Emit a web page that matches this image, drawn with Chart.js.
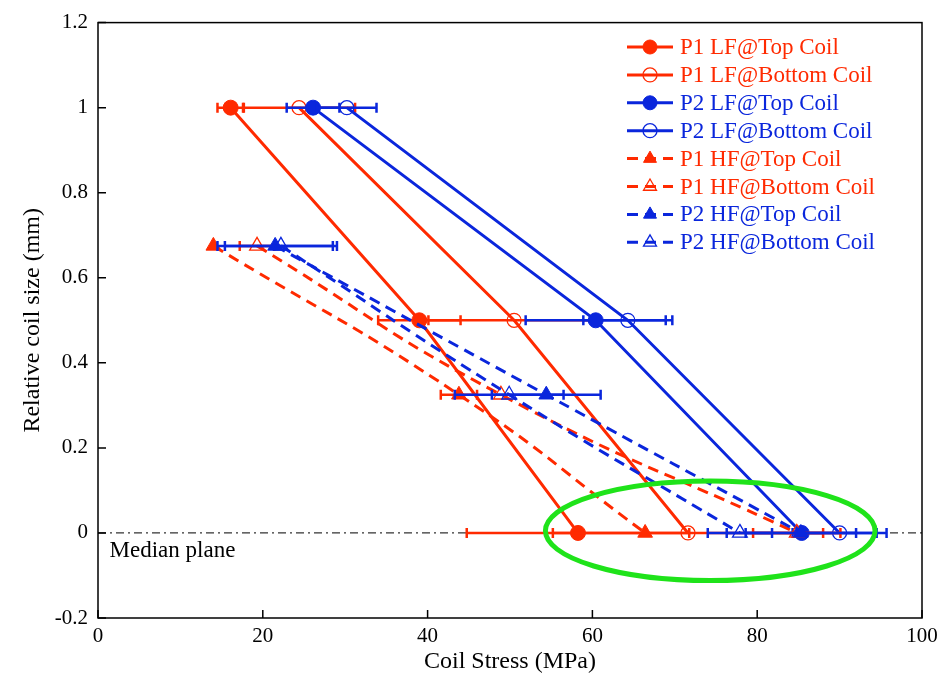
<!DOCTYPE html>
<html>
<head>
<meta charset="utf-8">
<script src="https://cdn.jsdelivr.net/npm/chart.js@4.4.0/dist/chart.umd.min.js"></script>
<style>
html, body { margin: 0; padding: 0; background: #fff; }
</style>
</head>
<body>
<canvas id="myChart" width="951" height="677"></canvas>
<script>
// series names, as in the legend
var seriesNames = ["P1 LF@Top Coil", "P1 LF@Bottom Coil", "P2 LF@Top Coil", "P2 LF@Bottom Coil",
                   "P1 HF@Top Coil", "P1 HF@Bottom Coil", "P2 HF@Top Coil", "P2 HF@Bottom Coil"];

// relative coil size (y) for the LF and HF positions
var lfSize = [1, 0.5, 0];
var hfSize = [0.675, 0.325, 0];

// coil stress (x, MPa)
var p1LfTop = [16.1, 39.0, 58.25];
var p1LfBottom = [24.4, 50.5, 71.6];
var p2LfTop = [26.1, 60.4, 85.4];
var p2LfBottom = [30.2, 64.3, 90.0];
var p1HfTop = [14.0, 43.8, 66.4];
var p1HfBottom = [19.3, 48.9, 84.8];
var p2HfTop = [21.5, 54.4, 85.3];
var p2HfBottom = [22.2, 49.9, 77.9];

// horizontal error (± MPa)
var p1LfTopErr = [1.6, 5.0, 13.5];
var p1LfBottomErr = [6.8, 10.4, 16.4];
var p2LfTopErr = [3.2, 8.5, 9.1];
var p2LfBottomErr = [3.6, 5.4, 5.7];
var p1HfTopErr = [0, 2.2, 0];
var p1HfBottomErr = [2.1, 0, 5.3];
var p2HfTopErr = [7.0, 6.6, 6.7];
var p2HfBottomErr = [6.8, 6.6, 3.9];

var xTicks = [0, 20, 40, 60, 80, 100];
var yTicks = [-0.2, 0, 0.2, 0.4, 0.6, 0.8, 1, 1.2];
var yTickLabels = ["-0.2", "0", "0.2", "0.4", "0.6", "0.8", "1", "1.2"];

// median plane line and the highlight ellipse
var medianX = [0, 100];
var medianY = [0, 0];
var ellipseCenter = [74.3, 0.005];
var ellipseRadius = [20.0, 0.117];

var RED = "#ff2a00";
var BLUE = "#0a26dc";
var GREEN = "#1fe31a";
var SERIF = "'Liberation Serif', 'Times New Roman', serif";

function pts(xs, ys) {
    return xs.map(function (x, i) { return { x: x, y: ys[i] }; });
}

var styles = [
    { c: RED, style: "circle", fill: true, dash: [] },
    { c: RED, style: "circle", fill: false, dash: [] },
    { c: BLUE, style: "circle", fill: true, dash: [] },
    { c: BLUE, style: "circle", fill: false, dash: [] },
    { c: RED, style: "triangle", fill: true, dash: [11, 7] },
    { c: RED, style: "triangle", fill: false, dash: [11, 7] },
    { c: BLUE, style: "triangle", fill: true, dash: [11, 7] },
    { c: BLUE, style: "triangle", fill: false, dash: [11, 7] }
];
var xs = [p1LfTop, p1LfBottom, p2LfTop, p2LfBottom, p1HfTop, p1HfBottom, p2HfTop, p2HfBottom];
var errs = [p1LfTopErr, p1LfBottomErr, p2LfTopErr, p2LfBottomErr, p1HfTopErr, p1HfBottomErr, p2HfTopErr, p2HfBottomErr];

var datasets = seriesNames.map(function (name, i) {
    var s = styles[i];
    var hf = i >= 4;
    return {
        label: name,
        data: pts(xs[i], hf ? hfSize : lfSize),
        errors: errs[i],
        borderColor: s.c,
        backgroundColor: s.fill ? s.c : "rgba(0,0,0,0)",
        pointStyle: s.style,
        pointRadius: s.style === "triangle" ? 8.5 : (s.fill ? 7.5 : 7),
        pointBorderWidth: s.fill ? 1 : 1.3,
        pointBorderColor: s.c,
        pointBackgroundColor: s.fill ? s.c : "rgba(0,0,0,0)",
        borderWidth: 3,
        borderDash: s.dash,
        tension: hf ? 0.5 : 0,
        order: 20 - i
    };
});
datasets.push({
    label: "Median plane",
    data: pts(medianX, medianY),
    borderColor: "#333",
    borderWidth: 1.2,
    borderDash: [8, 4, 2, 4],
    pointRadius: 0,
    order: 100
});

var errorBars = {
    id: "errorBars",
    beforeDatasetDraw: function (chart, args) {
        var ds = chart.data.datasets[args.index];
        if (!ds.errors) return;
        var ctx = chart.ctx, xs = chart.scales.x, ys = chart.scales.y;
        ctx.save();
        ctx.strokeStyle = ds.borderColor;
        ctx.lineWidth = 2.5;
        ctx.setLineDash([]);
        ds.data.forEach(function (p, k) {
            var e = ds.errors[k];
            if (!e) return;
            var x1 = xs.getPixelForValue(p.x - e), x2 = xs.getPixelForValue(p.x + e);
            var y = ys.getPixelForValue(p.y);
            ctx.beginPath();
            ctx.moveTo(x1, y); ctx.lineTo(x2, y);
            ctx.moveTo(x1, y - 5); ctx.lineTo(x1, y + 5);
            ctx.moveTo(x2, y - 5); ctx.lineTo(x2, y + 5);
            ctx.stroke();
        });
        ctx.restore();
    }
};

var decor = {
    id: "decor",
    afterDatasetsDraw: function (chart) {
        var ctx = chart.ctx, a = chart.chartArea, xs = chart.scales.x, ys = chart.scales.y;
        ctx.save();
        // green ellipse
        var cx = xs.getPixelForValue(ellipseCenter[0]), cy = ys.getPixelForValue(ellipseCenter[1]);
        var rx = xs.getPixelForValue(ellipseCenter[0] + ellipseRadius[0]) - cx;
        var ry = cy - ys.getPixelForValue(ellipseCenter[1] + ellipseRadius[1]);
        ctx.strokeStyle = GREEN;
        ctx.lineWidth = 5;
        ctx.beginPath();
        ctx.ellipse(cx, cy, rx, ry, 0, 0, Math.PI * 2);
        ctx.stroke();

        // median plane label
        ctx.fillStyle = "#000";
        ctx.font = "23px " + SERIF;
        ctx.textBaseline = "middle";
        ctx.textAlign = "left";
        ctx.fillText("Median plane", xs.getPixelForValue(1.4), ys.getPixelForValue(-0.042));

        // frame and inward ticks
        ctx.strokeStyle = "#000";
        ctx.lineWidth = 1.5;
        ctx.strokeRect(a.left, a.top, a.right - a.left, a.bottom - a.top);
        ctx.beginPath();
        xTicks.forEach(function (v) {
            var x = xs.getPixelForValue(v);
            ctx.moveTo(x, a.bottom); ctx.lineTo(x, a.bottom - 8);
        });
        yTicks.forEach(function (v) {
            var y = ys.getPixelForValue(v);
            ctx.moveTo(a.left, y); ctx.lineTo(a.left + 8, y);
        });
        ctx.stroke();

        // legend inside the plot
        chart.data.datasets.forEach(function (ds, i) {
            if (!ds.errors) return;
            var y = 47 + i * 27.9;
            ctx.strokeStyle = ds.borderColor;
            ctx.lineWidth = 3;
            ctx.setLineDash(ds.borderDash);
            ctx.beginPath();
            ctx.moveTo(627, y); ctx.lineTo(673, y);
            ctx.stroke();
            ctx.setLineDash([]);
            ctx.fillStyle = ds.pointBackgroundColor;
            ctx.lineWidth = ds.pointBorderWidth;
            Chart.helpers.drawPoint(ctx, {
                pointStyle: ds.pointStyle, radius: ds.pointStyle === "triangle" ? 7.5 : 7,
                rotation: 0, borderWidth: ds.pointBorderWidth
            }, 650, y);
            ctx.fillStyle = ds.borderColor;
            ctx.font = "23px " + SERIF;
            ctx.textBaseline = "middle";
            ctx.fillText(ds.label, 680, y + 1);
        });
        ctx.restore();
    }
};

new Chart("myChart", {
    type: "line",
    data: { datasets: datasets },
    options: {
        responsive: false,
        animation: false,
        layout: { padding: { top: 17, right: 29, left: 0, bottom: 0 } },
        plugins: { legend: { display: false }, tooltip: { enabled: false } },
        scales: {
            x: {
                type: "linear", min: 0, max: 100,
                afterBuildTicks: function (s) { s.ticks = xTicks.map(function (v) { return { value: v }; }); },
                afterFit: function (s) { s.height = 59; },
                grid: { display: false, drawTicks: false },
                border: { display: false },
                ticks: { color: "#000", font: { family: SERIF, size: 21 }, padding: 6, maxRotation: 0 },
                title: { display: true, text: "Coil Stress (MPa)", color: "#000",
                         font: { family: SERIF, size: 24 }, padding: { bottom: 1, top: 0 } }
            },
            y: {
                type: "linear", min: -0.2, max: 1.2,
                afterBuildTicks: function (s) { s.ticks = yTicks.map(function (v) { return { value: v }; }); },
                afterFit: function (s) { s.width = 98; },
                grid: { display: false, drawTicks: false },
                border: { display: false },
                ticks: {
                    color: "#000", font: { family: SERIF, size: 21 }, padding: 10,
                    callback: function (v) { return yTickLabels[yTicks.indexOf(v)]; }
                },
                title: { display: true, text: "Relative coil size (mm)", color: "#000",
                         font: { family: SERIF, size: 24 }, padding: { top: 18, bottom: 0 } }
            }
        }
    },
    plugins: [errorBars, decor]
});
</script>
</body>
</html>
